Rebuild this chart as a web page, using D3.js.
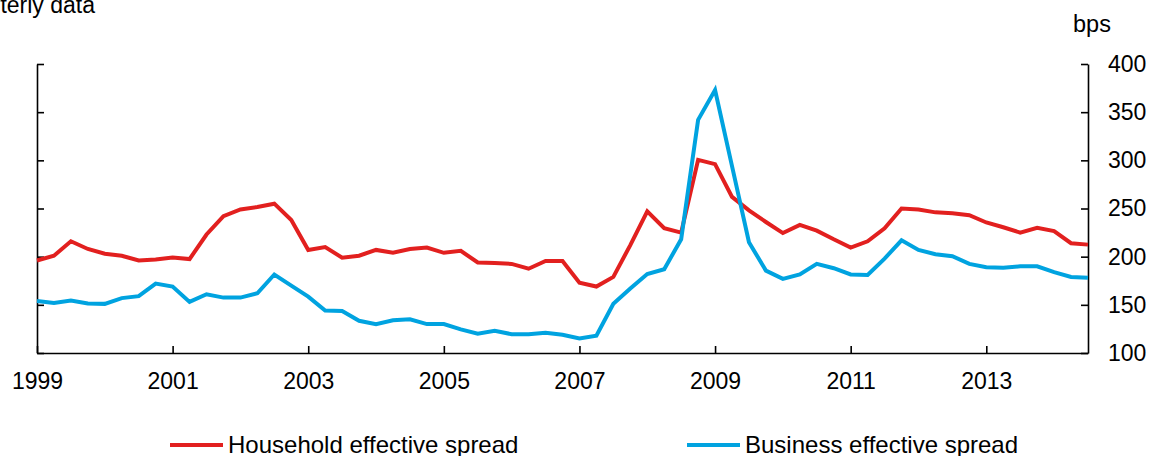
<!DOCTYPE html>
<html>
<head>
<meta charset="utf-8">
<script src="https://cdn.jsdelivr.net/npm/d3@7"></script>
<style>
  html, body { margin: 0; padding: 0; background: #fff; }
  svg { display: block; font-family: "Liberation Sans", Arial, sans-serif; }
</style>
</head>
<body>
<svg id="chart" width="1153" height="456"></svg>
<script>
// Quarterly observations, 1999 Q1 to 2014 Q3 (bps)
const startYear = 1999;
const household = [
  196, 201, 216, 208, 203, 201, 196, 197, 199, 197.5,
  223, 242, 249, 251.5, 255, 238, 207, 210, 199, 201,
  207, 204, 208, 209.5, 204, 206, 194, 193.5, 192.5, 187.5,
  195.5, 195.5, 173, 169, 179, 212, 247, 229.5, 225, 300.5,
  296, 262, 248, 236, 224.5, 233, 227, 218, 209.5, 216,
  229.5, 250, 249, 246, 245, 243, 235.5, 230.5, 225, 230,
  226.5, 214, 212.5
];
const business = [
  154, 152, 154.5, 151.5, 151, 157, 159, 172, 169, 153,
  161, 157.5, 157.5, 162, 181.5, 170, 158.5, 144, 143.5, 133.5,
  130, 134, 135, 130, 130, 124.5, 120, 123, 119.5, 119.5,
  121, 119, 115, 118, 151, 167, 182, 187, 218, 342,
  373, 294, 215, 185.5, 177, 181.5, 192.5, 188, 181.5, 181,
  198, 217, 207, 202.5, 200.5, 192.5, 189, 188.5, 190, 190,
  184, 179, 178
];
const xTickYears = [1999, 2001, 2003, 2005, 2007, 2009, 2011, 2013];
const yTicks = [100, 150, 200, 250, 300, 350, 400];
const seriesNames = ["Household effective spread", "Business effective spread"];
const seriesColors = ["#e2201f", "#00a3e0"];

(function () {
const svg = d3.select("#chart");
const mLeft = 37, mRight = 1088, mTop = 64, mBottom = 353;

const x = d3.scaleLinear()
  .domain([startYear, startYear + (household.length - 1) / 4])
  .range([mLeft, mRight]);
const y = d3.scaleLinear().domain([100, 400]).range([mBottom, mTop]);

const fontPx = 23;

// Axes
const xAxis = d3.axisBottom(x)
  .tickValues(xTickYears)
  .tickFormat(d3.format("d"))
  .tickSizeInner(-7).tickSizeOuter(0).tickPadding(20);
const gx = svg.append("g").attr("transform", `translate(0,${mBottom})`).call(xAxis);

const yAxisL = d3.axisLeft(y).tickValues(yTicks).tickFormat("")
  .tickSizeInner(-7).tickSizeOuter(0);
const gyl = svg.append("g").attr("transform", `translate(${mLeft},0)`).call(yAxisL);

const yAxisR = d3.axisRight(y).tickValues(yTicks).tickFormat(d3.format("d"))
  .tickSizeInner(-7).tickSizeOuter(0).tickPadding(20);
const gyr = svg.append("g").attr("transform", `translate(${mRight},0)`).call(yAxisR);

[gx, gyl, gyr].forEach(g => {
  g.selectAll("path, line").attr("stroke", "#000").attr("stroke-width", 1.6);
  g.selectAll("text").attr("fill", "#000")
    .style("font-family", '"Liberation Sans", Arial, sans-serif')
    .style("font-size", fontPx + "px");
});

// Lines
const line = d3.line()
  .x((d, i) => x(startYear + i / 4))
  .y(d => y(d));

[household, business].forEach((s, k) => {
  svg.append("path")
    .datum(s)
    .attr("fill", "none")
    .attr("stroke", seriesColors[k])
    .attr("stroke-width", 4)
    .attr("stroke-linejoin", "miter")
    .attr("d", line);
});

// Top texts
svg.append("text")
  .attr("x", 95).attr("y", 13)
  .attr("text-anchor", "end")
  .style("font-size", "23px")
  .text("Quarterly data");

svg.append("text")
  .attr("x", 1092).attr("y", 32)
  .attr("text-anchor", "middle")
  .style("font-size", "23.5px")
  .text("bps");

// Legend
const legendX = [170, 687];
seriesNames.forEach((name, k) => {
  const g = svg.append("g").attr("transform", `translate(${legendX[k]},445)`);
  g.append("line").attr("x1", 0).attr("x2", 53).attr("y1", 0).attr("y2", 0)
    .attr("stroke", seriesColors[k]).attr("stroke-width", 4);
  g.append("text").attr("x", 58).attr("y", 8)
    .style("font-size", "24px")
    .text(name);
});
})();
</script>
</body>
</html>
